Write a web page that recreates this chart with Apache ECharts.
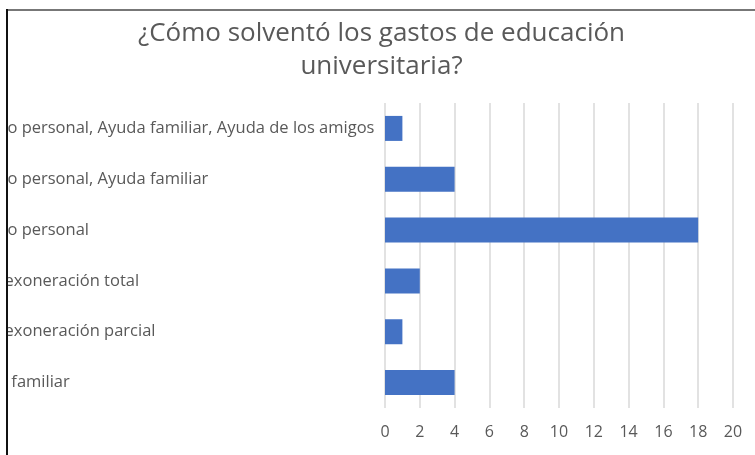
<!DOCTYPE html>
<html>
<head>
<meta charset="utf-8">
<script src="https://cdn.jsdelivr.net/npm/echarts@6/dist/echarts.min.js"></script>
<style>
  html, body { margin: 0; padding: 0; background: #fff; }
  #wrap { position: relative; width: 755px; height: 455px; overflow: hidden; background: #fff; }
  #chart { position: absolute; left: 8px; top: 0; width: 747px; height: 455px; }
  #bl { position: absolute; left: 6px; top: 9px; width: 2px; height: 446px; background: #111; }
  #bt { position: absolute; left: 7px; top: 9px; width: 748px; height: 2px; background: #777; }
</style>
</head>
<body>
<div id="wrap">
  <div id="chart"></div>
  <div id="bt"></div>
  <div id="bl"></div>
</div>
<script>
const titleText = '¿Cómo solventó los gastos de educación\nuniversitaria?';
const categories = [
  'Trabajo personal, Ayuda familiar, Ayuda de los amigos',
  'Trabajo personal, Ayuda familiar',
  'Trabajo personal',
  'Beca, exoneración total',
  'Beca, exoneración parcial',
  'Ayuda familiar'
];
const values = [1, 4, 18, 2, 1, 4];
const axisMin = 0, axisMax = 20, axisStep = 2;

const font = 'Open Sans';
const chart = echarts.init(document.getElementById('chart'), null, { renderer: 'canvas' });
chart.setOption({
  animation: false,
  title: {
    text: titleText,
    left: 'center',
    top: 17,
    padding: 0,
    textStyle: { fontFamily: font, fontSize: 26, fontWeight: 'normal', color: '#595959', lineHeight: 33 }
  },
  grid: { left: 377, right: 22, top: 103, bottom: 47, containLabel: false, outerBoundsMode: 'none' },
  xAxis: {
    type: 'value', min: axisMin, max: axisMax, interval: axisStep,
    axisLine: { show: false }, axisTick: { show: false },
    axisLabel: { fontFamily: font, fontSize: 16, color: '#595959', margin: 16 },
    splitLine: { show: true, lineStyle: { color: '#d9d9d9', width: 1.5 } }
  },
  yAxis: {
    type: 'category', data: categories, inverse: true,
    axisLine: { show: false }, axisTick: { show: false },
    axisLabel: { fontFamily: font, fontSize: 16.5, color: '#595959', margin: 426, align: 'left' }
  },
  series: [{
    type: 'bar', data: values, barWidth: 25,
    itemStyle: { color: '#4472c4' }
  }]
});
</script>
</body>
</html>
